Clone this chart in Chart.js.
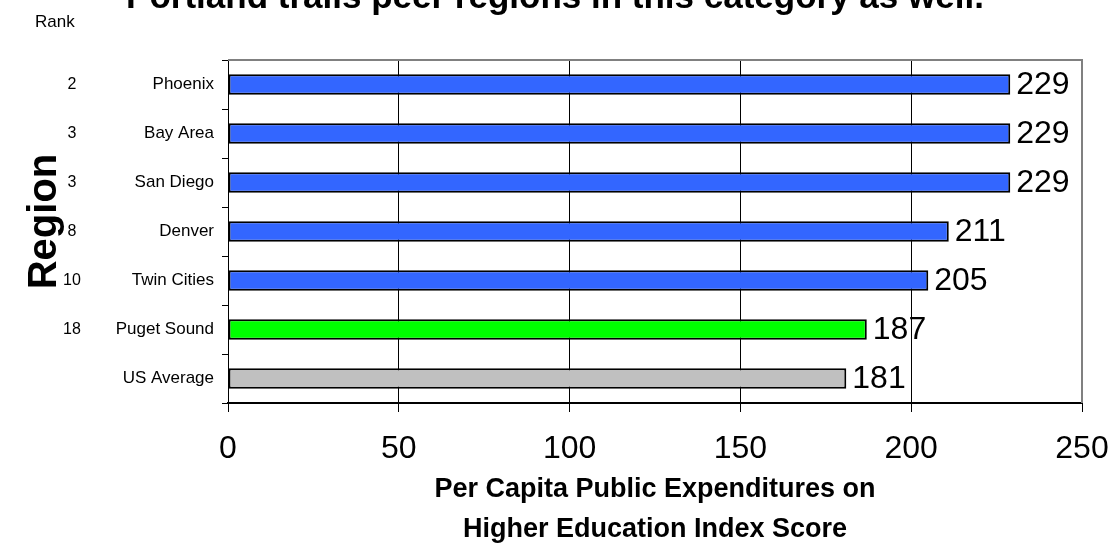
<!DOCTYPE html>
<html>
<head>
<meta charset="utf-8">
<script src="https://cdn.jsdelivr.net/npm/chart.js@4.4.1/dist/chart.umd.min.js"></script>
<style>
  html, body { margin: 0; padding: 0; background: #fff; }
  #wrap { width: 1116px; height: 552px; position: relative; }
</style>
</head>
<body>
<div id="wrap"><canvas id="chart"></canvas></div>
<script>
// chart data
const regions = ['Phoenix', 'Bay Area', 'San Diego', 'Denver', 'Twin Cities', 'Puget Sound', 'US Average'];
const ranks = ['2', '3', '3', '8', '10', '18', ''];
const scores = [229, 229, 229, 211, 205, 187, 181];
const barColors = ['#3366ff', '#3366ff', '#3366ff', '#3366ff', '#3366ff', '#00ff00', '#c0c0c0'];
const xTicks = [0, 50, 100, 150, 200, 250];
const titleText = 'Portland trails peer regions in this category as well.';

const FONT = 'Arial, "Liberation Sans", sans-serif';

// extra texts: clipped title, Rank column, Region label, value labels
const extrasPlugin = {
    id: 'extras',
    afterDraw(chart) {
        const ctx = chart.ctx;
        const area = chart.chartArea;
        const yScale = chart.scales.y;
        ctx.save();
        ctx.fillStyle = '#000';

        // title (top part cut off by the page edge)
        ctx.font = 'bold 35px ' + FONT;
        ctx.textAlign = 'center';
        ctx.textBaseline = 'alphabetic';
        ctx.fillText(titleText, 555, 8);

        // Rank header
        ctx.font = '17px ' + FONT;
        ctx.textAlign = 'left';
        ctx.fillText('Rank', 35, 27);

        // rank numbers
        ctx.font = '16px ' + FONT;
        ctx.textAlign = 'center';
        ctx.textBaseline = 'middle';
        ranks.forEach((r, i) => {
            ctx.fillText(r, 72, yScale.getPixelForValue(i));
        });

        // Region axis title
        ctx.save();
        ctx.translate(45, (area.top + area.bottom) / 2 - 10);
        ctx.rotate(-Math.PI / 2);
        ctx.font = 'bold 40px ' + FONT;
        ctx.textAlign = 'center';
        ctx.textBaseline = 'middle';
        ctx.fillText('Region', 0, 0);
        ctx.restore();

        // value labels at bar ends
        ctx.font = '32px ' + FONT;
        ctx.textAlign = 'left';
        ctx.textBaseline = 'middle';
        const meta = chart.getDatasetMeta(0);
        meta.data.forEach((bar, i) => {
            ctx.fillText(String(scores[i]), bar.x + 6, bar.y + 1);
        });

        // plot border (gray top & right)
        ctx.strokeStyle = '#808080';
        ctx.lineWidth = 2;
        ctx.beginPath();
        ctx.moveTo(area.left, area.top);
        ctx.lineTo(area.right, area.top);
        ctx.lineTo(area.right, area.bottom);
        ctx.stroke();
        ctx.restore();
    }
};

const ctx = document.getElementById('chart').getContext('2d');
new Chart(ctx, {
    type: 'bar',
    data: {
        labels: regions,
        datasets: [{
            data: scores,
            backgroundColor: barColors,
            borderColor: '#000',
            borderWidth: 2,
            borderSkipped: false,
            barPercentage: 0.42,
            categoryPercentage: 1.0
        }]
    },
    options: {
        indexAxis: 'y',
        responsive: true,
        maintainAspectRatio: false,
        animation: false,
        layout: { padding: { top: 60, right: 34, left: 0, bottom: 0 } },
        plugins: {
            legend: { display: false },
            tooltip: { enabled: false }
        },
        scales: {
            x: {
                min: 0,
                max: 250,
                afterBuildTicks: (scale) => { scale.ticks = xTicks.map(v => ({ value: v })); },
                afterFit: (scale) => {
                    scale.height = 149;
                    scale.paddingLeft = 0;
                    scale.paddingRight = 0;
                },
                grid: {
                    color: (c) => (c.index === 0 || c.index === xTicks.length - 1) ? 'rgba(0,0,0,0)' : '#000',
                    tickColor: '#000',
                    lineWidth: 1,
                    drawTicks: true,
                    tickLength: 9
                },
                border: { color: '#000', width: 2 },
                ticks: {
                    color: '#000',
                    font: { family: FONT, size: 32 },
                    padding: 18,
                    maxRotation: 0
                },
                title: {
                    display: true,
                    text: ['Per Capita Public Expenditures on', 'Higher Education Index Score'],
                    color: '#000',
                    font: { family: FONT, size: 27, weight: 'bold', lineHeight: 40 / 27 },
                    padding: { top: 0, bottom: 2 }
                }
            },
            y: {
                afterFit: (scale) => { scale.width = 228; },
                grid: {
                    offset: true,
                    drawOnChartArea: false,
                    drawTicks: true,
                    tickLength: 6,
                    tickColor: '#000'
                },
                border: { color: '#000', width: 1 },
                ticks: {
                    color: '#000',
                    font: { family: FONT, size: 17 },
                    padding: 8
                }
            }
        }
    },
    plugins: [extrasPlugin]
});
</script>
</body>
</html>
